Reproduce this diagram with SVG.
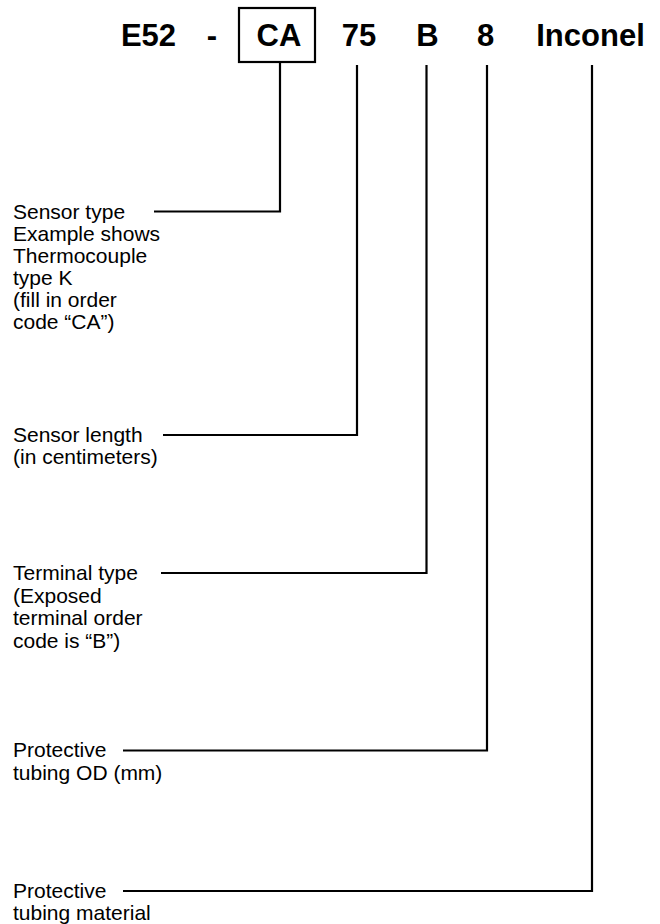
<svg xmlns="http://www.w3.org/2000/svg" width="660" height="924" viewBox="0 0 660 924">
<style>
.code{font-family:"Liberation Sans",Arial,sans-serif;font-weight:bold;font-size:31px;fill:#000;text-anchor:middle}
.lbl{font-family:"Liberation Sans",Arial,sans-serif;font-size:21px;fill:#000}
.ln{fill:none;stroke:#000;stroke-width:2.2}
</style>
<rect width="660" height="924" fill="#fff"/>
<g id="code">
<text class="code" x="148.5" y="46">E52</text>
<text class="code" x="212" y="46">-</text>
<rect class="ln" x="239" y="8" width="76" height="54"/>
<text class="code" x="279" y="46">CA</text>
<text class="code" x="359" y="46">75</text>
<text class="code" x="427.5" y="46">B</text>
<text class="code" x="485.5" y="46">8</text>
<text class="code" x="590.5" y="46">Inconel</text>
</g>
<g id="connectors">
<polyline class="ln" points="280,62 280,211.5 154,211.5"/>
<polyline class="ln" points="357,65 357,435 163,435"/>
<polyline class="ln" points="426.5,65 426.5,573 161,573"/>
<polyline class="ln" points="487,65 487,750.5 123,750.5"/>
<polyline class="ln" points="592,65 592,891 123,891"/>
</g>
<g id="sensor-type">
<text class="lbl" x="13" y="218.5">Sensor type</text>
<text class="lbl" x="13" y="240.5">Example shows</text>
<text class="lbl" x="13" y="262.5">Thermocouple</text>
<text class="lbl" x="13" y="284.5">type K</text>
<text class="lbl" x="13" y="306.5">(fill in order</text>
<text class="lbl" x="13" y="328.5">code “CA”)</text>
</g>
<g id="sensor-length">
<text class="lbl" x="13" y="442">Sensor length</text>
<text class="lbl" x="13" y="464">(in centimeters)</text>
</g>
<g id="terminal-type">
<text class="lbl" x="13" y="580">Terminal type</text>
<text class="lbl" x="13" y="602.5">(Exposed</text>
<text class="lbl" x="13" y="625">terminal order</text>
<text class="lbl" x="13" y="647.5">code is “B”)</text>
</g>
<g id="tubing-od">
<text class="lbl" x="13" y="757">Protective</text>
<text class="lbl" x="13" y="779.5">tubing OD (mm)</text>
</g>
<g id="tubing-material">
<text class="lbl" x="13" y="897.5">Protective</text>
<text class="lbl" x="13" y="919.5">tubing material</text>
</g>
</svg>
